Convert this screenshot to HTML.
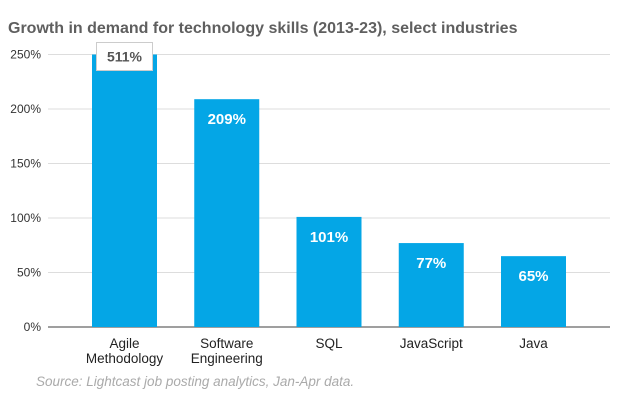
<!DOCTYPE html>
<html><head><meta charset="utf-8"><style>
body{margin:0;background:#fff;font-family:"Liberation Sans",sans-serif;}
svg text{font-family:"Liberation Sans",sans-serif;}
</style></head><body>
<svg width="624" height="407">
<text x="8" y="33" font-size="16" font-weight="bold" fill="#5f5f5f">Growth in demand for technology skills (2013-23), select industries</text>
<g id="grid"></g><g id="bars"></g>
<text x="36" y="386" font-size="13.5" font-style="italic" fill="#aaa">Source: Lightcast job posting analytics, Jan-Apr data.</text>
</svg>
<script>
const categories=[["Agile","Methodology"],["Software","Engineering"],["SQL"],["JavaScript"],["Java"]];
const values=[511,209,101,77,65];
const ticks=[0,50,100,150,200,250];
const NS="http://www.w3.org/2000/svg";
const y0=327,yMax=250,yTop=54.5,x0=48,x1=610;
const y=v=>y0-(Math.min(v,yMax)/yMax)*(y0-yTop);
const firstC=124.5,step=102.25,bw=65;
function mk(tag,attrs,parent){const e=document.createElementNS(NS,tag);for(const k in attrs)e.setAttribute(k,attrs[k]);parent.appendChild(e);return e;}
const grid=document.getElementById('grid'),bars=document.getElementById('bars');
ticks.forEach(t=>{
 const l=mk('line',{x1:x0,x2:x1,y1:y(t),y2:y(t),stroke:t===0?'#666':'#ddd','stroke-width':t===0?1.3:1},grid);
 
 
 const tx=mk('text',{x:41,y:y(t)+4,'text-anchor':'end','font-size':12,fill:'#333'},grid);
 tx.textContent=t+'%';
 
 
});
values.forEach((v,i)=>{
 const cx=firstC+step*i;
 const r=mk('rect',{x:cx-bw/2,y:y(v),width:bw,height:y0-y(v),fill:'#04a6e6'},bars);
 
 
 if(v>yMax){
  const b=mk('rect',{x:cx-28,y:y(v)-12,width:56,height:28,fill:'#fff',stroke:'#ccc'},bars);
  
  
  const t=mk('text',{x:cx,y:y(v)+7,'text-anchor':'middle','font-size':14,'font-weight':'bold',fill:'#555'},bars);
  t.textContent=v+'%';
  
  
 } else {
  const t=mk('text',{x:cx,y:y(v)+25,'text-anchor':'middle','font-size':15,'font-weight':'bold',fill:'#fff'},bars);
  t.textContent=v+'%';
  
  
 }
 categories[i].forEach((ln,j)=>{
  const t=mk('text',{x:cx,y:348+j*15,'text-anchor':'middle','font-size':13.5,fill:'#222'},bars);
  t.textContent=ln;
  
  
 });
});
</script>
</body></html>
